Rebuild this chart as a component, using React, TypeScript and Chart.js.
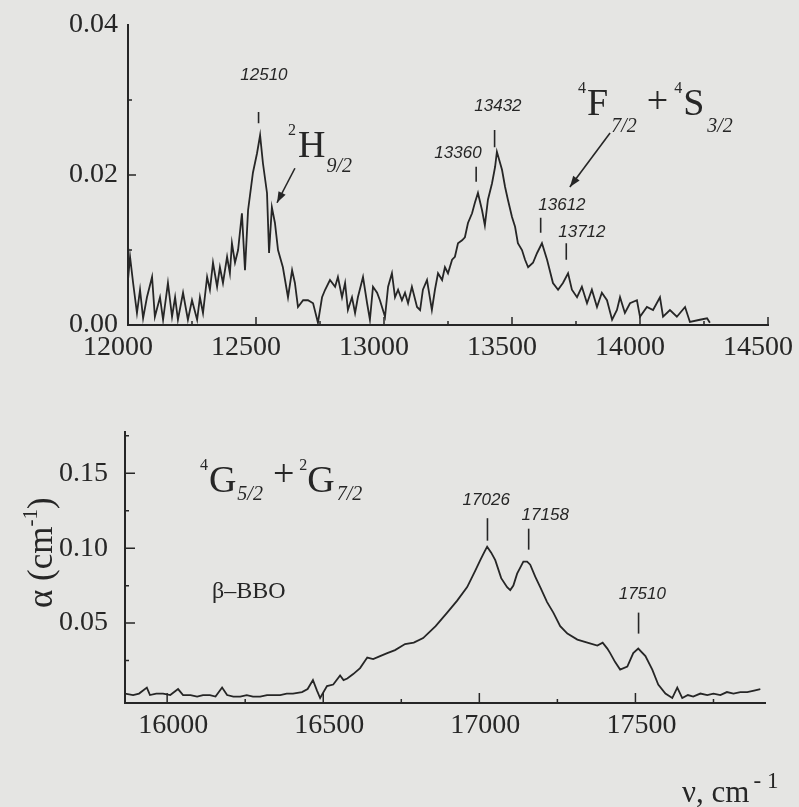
import React, { useEffect, useRef } from 'react';
import { Chart, registerables } from 'chart.js';

Chart.register(...registerables);

// ---------- Data: upper panel (2H9/2, 4F7/2 + 4S3/2) ----------
const topWavenumbers = [
  12000, 12008, 12020, 12035, 12047, 12059, 12074, 12094, 12105, 12125, 12137, 12156, 12172, 12184, 12195,
  12215, 12234, 12250, 12270, 12281, 12293, 12309, 12320, 12332, 12348, 12359, 12371, 12387, 12398, 12406,
  12418, 12430, 12445, 12457, 12469, 12488, 12504, 12516, 12527, 12543, 12551, 12562, 12574, 12586, 12605,
  12625, 12641, 12652, 12664, 12684, 12703, 12723, 12742, 12758, 12770, 12789, 12809, 12820, 12836, 12848,
  12859, 12875, 12887, 12898, 12918, 12934, 12945, 12957, 12973, 12984, 13004, 13016, 13031, 13043, 13055,
  13070, 13082, 13094, 13109, 13129, 13141, 13152, 13168, 13187, 13199, 13211, 13227, 13238, 13250, 13266,
  13277, 13289, 13305, 13316, 13328, 13344, 13355, 13367, 13383, 13394, 13406, 13422, 13434, 13441, 13461,
  13473, 13484, 13500, 13512, 13523, 13539, 13551, 13563, 13582, 13598, 13617, 13637, 13660, 13680, 13699,
  13719, 13734, 13754, 13773, 13793, 13812, 13832, 13851, 13871, 13891, 13910, 13922, 13941, 13961, 13988,
  14000, 14027, 14051, 14078, 14090, 14117, 14144, 14176, 14195, 14234, 14262, 14273,
];
const topAbsorption = [
  0.0060, 0.0091, 0.0056, 0.0016, 0.0047, 0.0009, 0.0037, 0.0064, 0.0011, 0.0037, 0.0007, 0.0056, 0.0011, 0.0037, 0.0007,
  0.0043, 0.0007, 0.0033, 0.0007, 0.0037, 0.0016, 0.0064, 0.0047, 0.0083, 0.0051, 0.0077, 0.0056, 0.0091, 0.0069, 0.0109,
  0.0083, 0.0100, 0.0149, 0.0073, 0.0153, 0.0203, 0.0229, 0.0253, 0.0216, 0.0176, 0.0096, 0.0157, 0.0136, 0.0100, 0.0077,
  0.0037, 0.0073, 0.0056, 0.0024, 0.0033, 0.0033, 0.0029, 0.0003, 0.0037, 0.0047, 0.0060, 0.0051, 0.0064, 0.0037, 0.0056,
  0.0020, 0.0037, 0.0016, 0.0037, 0.0064, 0.0029, 0.0007, 0.0051, 0.0043, 0.0033, 0.0011, 0.0051, 0.0069, 0.0037, 0.0047,
  0.0033, 0.0043, 0.0029, 0.0051, 0.0024, 0.0020, 0.0047, 0.0060, 0.0020, 0.0047, 0.0069, 0.0060, 0.0077, 0.0069, 0.0087,
  0.0091, 0.0109, 0.0113, 0.0117, 0.0136, 0.0149, 0.0163, 0.0176, 0.0153, 0.0133, 0.0167, 0.0189, 0.0211, 0.0231, 0.0207,
  0.0184, 0.0167, 0.0144, 0.0131, 0.0109, 0.0100, 0.0087, 0.0077, 0.0083, 0.0096, 0.0109, 0.0087, 0.0056, 0.0047, 0.0056,
  0.0069, 0.0047, 0.0037, 0.0051, 0.0029, 0.0047, 0.0024, 0.0043, 0.0033, 0.0007, 0.0020, 0.0037, 0.0016, 0.0029, 0.0033,
  0.0011, 0.0024, 0.0020, 0.0037, 0.0011, 0.0020, 0.0011, 0.0024, 0.0004, 0.0007, 0.0009, 0.0003,
];
const topXMajorTicks = [12000, 12500, 13000, 13500, 14000, 14500];
const topXMinorTicks = [12250, 12750, 13250, 13750, 14250];
const topYMajorTicks = [0, 0.02, 0.04];
const topYMinorTicks = [0.01, 0.03];

// ---------- Data: lower panel (4G5/2 + 2G7/2, beta-BBO) ----------
const bottomWavenumbers = [
  15865, 15891, 15910, 15935, 15945, 15965, 15987, 16010, 16035, 16051, 16075, 16096, 16115, 16137, 16155,
  16176, 16192, 16212, 16234, 16255, 16275, 16298, 16320, 16340, 16362, 16383, 16403, 16432, 16450, 16467,
  16480, 16490, 16512, 16532, 16554, 16565, 16577, 16596, 16618, 16641, 16660, 16682, 16705, 16730, 16762,
  16790, 16820, 16860, 16897, 16929, 16961, 16987, 17003, 17015, 17025, 17038, 17051, 17070, 17089, 17099,
  17109, 17121, 17141, 17153, 17163, 17179, 17195, 17217, 17237, 17259, 17282, 17314, 17346, 17378, 17395,
  17410, 17419, 17435, 17451, 17474, 17493, 17509, 17532, 17554, 17573, 17596, 17618, 17634, 17650, 17668,
  17685, 17708, 17730, 17750, 17772, 17793, 17814, 17836, 17858, 17880, 17900,
];
const bottomAbsorption = [
  0.003, 0.002, 0.003, 0.007, 0.002, 0.003, 0.003, 0.002, 0.006, 0.002, 0.002, 0.001, 0.002, 0.002, 0.001,
  0.007, 0.002, 0.001, 0.001, 0.002, 0.001, 0.001, 0.002, 0.002, 0.002, 0.003, 0.003, 0.004, 0.006, 0.012,
  0.005, 0.000, 0.008, 0.009, 0.015, 0.012, 0.013, 0.016, 0.020, 0.027, 0.026, 0.028, 0.030, 0.032, 0.036,
  0.037, 0.040, 0.048, 0.057, 0.065, 0.074, 0.085, 0.092, 0.097, 0.101, 0.097, 0.092, 0.080, 0.074, 0.072,
  0.075, 0.083, 0.091, 0.091, 0.089, 0.081, 0.074, 0.064, 0.057, 0.048, 0.043, 0.039, 0.037, 0.035, 0.037,
  0.033, 0.030, 0.024, 0.019, 0.021, 0.030, 0.033, 0.028, 0.019, 0.009, 0.003, 0.000, 0.007, 0.000, 0.002,
  0.001, 0.003, 0.002, 0.003, 0.002, 0.004, 0.003, 0.004, 0.004, 0.005, 0.006,
];
const bottomXMajorTicks = [16000, 16500, 17000, 17500];
const bottomXMinorTicks = [16250, 16750, 17250, 17750];
const bottomYMajorTicks = [0.05, 0.1, 0.15];
const bottomYMinorTicks = [0.025, 0.075, 0.125, 0.175];

// Peak assignments (wavenumbers as printed)
const topPeaks = ['12510', '13360', '13432', '13612', '13712'];
const bottomPeaks = ['17026', '17158', '17510'];

// ---------- Style / placement ----------
const BG = '#e5e5e3';
const INK = '#262626';
const SERIF = '"Liberation Serif", "DejaVu Serif", serif';
const W = 799;

// annotation placement in data units
const topPeakMarks: Record<string, { y0: number; y1: number; lx: number; ly: number }> = {
  '12510': { y0: 0.0269, y1: 0.0284, lx: 12531, ly: 0.0333 },
  '13360': { y0: 0.0191, y1: 0.0211, lx: 13289, ly: 0.0229 },
  '13432': { y0: 0.0237, y1: 0.026, lx: 13445, ly: 0.0291 },
  '13612': { y0: 0.0123, y1: 0.0143, lx: 13695, ly: 0.016 },
  '13712': { y0: 0.0087, y1: 0.0109, lx: 13773, ly: 0.0123 },
};
const bottomPeakMarks: Record<string, { y0: number; y1: number; lx: number; ly: number }> = {
  '17026': { y0: 0.105, y1: 0.12, lx: 17022, ly: 0.132 },
  '17158': { y0: 0.099, y1: 0.113, lx: 17211, ly: 0.122 },
  '17510': { y0: 0.043, y1: 0.057, lx: 17522, ly: 0.069 },
};

type Seg = { t: string; size: number; dy: number; italic?: boolean; bold?: boolean; gap?: number };

function segFont(s: Seg) {
  return `${s.italic ? 'italic ' : ''}${s.bold ? 'bold ' : ''}${s.size}px ${SERIF}`;
}

function segWidth(ctx: CanvasRenderingContext2D, segs: Seg[]) {
  let w = 0;
  for (const s of segs) {
    ctx.font = segFont(s);
    w += (s.gap || 0) + ctx.measureText(s.t).width;
  }
  return w;
}

function drawSegs(ctx: CanvasRenderingContext2D, x: number, y: number, segs: Seg[]) {
  let cx = x;
  ctx.textAlign = 'left';
  ctx.textBaseline = 'alphabetic';
  for (const s of segs) {
    ctx.font = segFont(s);
    cx += s.gap || 0;
    ctx.fillText(s.t, cx, y + s.dy);
    cx += ctx.measureText(s.t).width;
  }
}

function arrow(ctx: CanvasRenderingContext2D, x0: number, y0: number, x1: number, y1: number) {
  ctx.beginPath();
  ctx.moveTo(x0, y0);
  ctx.lineTo(x1, y1);
  ctx.stroke();
  const a = Math.atan2(y1 - y0, x1 - x0);
  const L = 11, Wd = 4;
  ctx.beginPath();
  ctx.moveTo(x1, y1);
  ctx.lineTo(x1 - L * Math.cos(a) + Wd * Math.sin(a), y1 - L * Math.sin(a) - Wd * Math.cos(a));
  ctx.lineTo(x1 - L * Math.cos(a) - Wd * Math.sin(a), y1 - L * Math.sin(a) + Wd * Math.cos(a));
  ctx.closePath();
  ctx.fill();
}

function insideTicks(chart: any, xMaj: number[], xMin: number[], yMaj: number[], yMin: number[], majLen: number) {
  const { ctx, chartArea } = chart;
  const x = chart.scales.x;
  const y = chart.scales.y;
  ctx.save();
  ctx.strokeStyle = INK;
  ctx.lineWidth = 1.5;
  ctx.beginPath();
  for (const v of xMaj) {
    const p = x.getPixelForValue(v);
    if (p <= chartArea.left + 1 || p > chartArea.right) continue;
    ctx.moveTo(p, chartArea.bottom);
    ctx.lineTo(p, chartArea.bottom - majLen);
  }
  for (const v of xMin) {
    const p = x.getPixelForValue(v);
    if (p > chartArea.right) continue;
    ctx.moveTo(p, chartArea.bottom);
    ctx.lineTo(p, chartArea.bottom - 4);
  }
  for (const v of yMaj) {
    const p = y.getPixelForValue(v);
    if (p >= chartArea.bottom - 1 || p <= chartArea.top + 1) continue;
    ctx.moveTo(chartArea.left, p);
    ctx.lineTo(chartArea.left + majLen, p);
  }
  for (const v of yMin) {
    const p = y.getPixelForValue(v);
    if (p < chartArea.top) continue;
    ctx.moveTo(chartArea.left, p);
    ctx.lineTo(chartArea.left + 4, p);
  }
  ctx.stroke();
  ctx.restore();
}

function peakMarks(chart: any, labels: string[], marks: Record<string, { y0: number; y1: number; lx: number; ly: number }>) {
  const { ctx } = chart;
  const x = chart.scales.x;
  const y = chart.scales.y;
  ctx.save();
  ctx.strokeStyle = INK;
  ctx.fillStyle = INK;
  ctx.lineWidth = 1.6;
  ctx.font = 'italic 17px "Liberation Sans", "DejaVu Sans", sans-serif';
  ctx.textAlign = 'center';
  ctx.textBaseline = 'middle';
  for (const lab of labels) {
    const m = marks[lab];
    const px = x.getPixelForValue(Number(lab));
    ctx.beginPath();
    ctx.moveTo(px, y.getPixelForValue(m.y0));
    ctx.lineTo(px, y.getPixelForValue(m.y1));
    ctx.stroke();
    ctx.fillText(lab, x.getPixelForValue(m.lx), y.getPixelForValue(m.ly));
  }
  ctx.restore();
}

const tickFont = { family: 'Liberation Serif', size: 28 };

function buildTicks(values: number[]) {
  return (scale: any) => {
    scale.ticks = values.slice().sort((a, b) => a - b).map((v) => ({ value: v }));
  };
}

function fixX(h: number) {
  return (s: any) => {
    s.height = h;
    s.paddingLeft = 0;
    s.paddingRight = 0;
  };
}

function fixY(w: number) {
  return (s: any) => {
    s.width = w;
    s.paddingTop = 0;
    s.paddingBottom = 0;
  };
}

export default function App() {
  const topRef = useRef<HTMLCanvasElement | null>(null);
  const botRef = useRef<HTMLCanvasElement | null>(null);

  useEffect(() => {
    document.body.style.margin = '0';
    document.body.style.background = BG;

    const topMajorSet = new Set(topXMajorTicks);
    const topYMajorSet = new Set(topYMajorTicks);

    const topPlugin = {
      id: 'topDecor',
      afterDraw(chart: any) {
        insideTicks(chart, topXMajorTicks, topXMinorTicks, topYMajorTicks, topYMinorTicks, 8);
        peakMarks(chart, topPeaks, topPeakMarks);
        const { ctx } = chart;
        const x = chart.scales.x;
        const y = chart.scales.y;
        ctx.save();
        ctx.fillStyle = INK;
        ctx.strokeStyle = INK;
        ctx.lineWidth = 1.6;
        // 2H9/2
        drawSegs(ctx, x.getPixelForValue(12625), y.getPixelForValue(0.0224), [
          { t: '2', size: 16, dy: -22 },
          { t: 'H', size: 38, dy: 0, gap: 2 },
          { t: '9/2', size: 20, dy: 15, italic: true, gap: 1 },
        ]);
        arrow(ctx, x.getPixelForValue(12652), y.getPixelForValue(0.0209), x.getPixelForValue(12582), y.getPixelForValue(0.0163));
        // 4F7/2 + 4S3/2
        drawSegs(ctx, x.getPixelForValue(13758), y.getPixelForValue(0.028), [
          { t: '4', size: 16, dy: -22 },
          { t: 'F', size: 38, dy: 0, gap: 1 },
          { t: '7/2', size: 20, dy: 17, italic: true, gap: 3 },
          { t: '+', size: 38, dy: -2, gap: 10 },
          { t: '4', size: 16, dy: -22, gap: 6 },
          { t: 'S', size: 38, dy: 0, gap: 1 },
          { t: '3/2', size: 20, dy: 17, italic: true, gap: 3 },
        ]);
        arrow(ctx, x.getPixelForValue(13883), y.getPixelForValue(0.0256), x.getPixelForValue(13726), y.getPixelForValue(0.0184));
        ctx.restore();
      },
    };

    const botPlugin = {
      id: 'botDecor',
      afterDraw(chart: any) {
        insideTicks(chart, bottomXMajorTicks, bottomXMinorTicks, bottomYMajorTicks, bottomYMinorTicks, 10);
        peakMarks(chart, bottomPeaks, bottomPeakMarks);
        const { ctx, chartArea } = chart;
        const x = chart.scales.x;
        const y = chart.scales.y;
        ctx.save();
        ctx.fillStyle = INK;
        // 4G5/2 + 2G7/2
        drawSegs(ctx, x.getPixelForValue(16105), y.getPixelForValue(0.1373), [
          { t: '4', size: 16, dy: -22 },
          { t: 'G', size: 38, dy: 0, gap: 1 },
          { t: '5/2', size: 20, dy: 8, italic: true, gap: 1 },
          { t: '+', size: 38, dy: -6, gap: 10 },
          { t: '2', size: 16, dy: -22, gap: 5 },
          { t: 'G', size: 38, dy: 0, gap: 0 },
          { t: '7/2', size: 20, dy: 8, italic: true, gap: 2 },
        ]);
        // beta-BBO
        drawSegs(ctx, x.getPixelForValue(16144), y.getPixelForValue(0.0667), [{ t: 'β–BBO', size: 24, dy: 0 }]);
        // y-axis title: α (cm-1)
        const ySegs: Seg[] = [
          { t: 'α (cm', size: 35, dy: 0 },
          { t: '-1', size: 21, dy: -15 },
          { t: ')', size: 35, dy: 0 },
        ];
        const tw = segWidth(ctx, ySegs);
        ctx.save();
        ctx.translate(chartArea.left - 73, y.getPixelForValue(0.097));
        ctx.rotate(-Math.PI / 2);
        drawSegs(ctx, -tw / 2, 0, ySegs);
        ctx.restore();
        // x-axis title: ν, cm -1
        drawSegs(ctx, chartArea.right - 83, chart.height - 5, [
          { t: 'ν, cm', size: 31, dy: 0 },
          { t: '-', size: 23, dy: -14, gap: 4 },
          { t: '1', size: 23, dy: -14, gap: 6 },
        ]);
        ctx.restore();
      },
    };

    const lineStyle = {
      borderColor: INK,
      borderWidth: 1.8,
      pointRadius: 0,
      tension: 0,
      fill: false,
    };

    const topChart = new Chart(topRef.current as HTMLCanvasElement, {
      type: 'line',
      data: {
        datasets: [
          {
            data: topWavenumbers.map((v, i) => ({ x: v, y: topAbsorption[i] })),
            ...lineStyle,
          },
        ],
      },
      options: {
        animation: false,
        responsive: false,
        devicePixelRatio: 1,
        layout: { padding: { left: 0, top: 25, right: 31, bottom: 0 } },
        plugins: { legend: { display: false }, tooltip: { enabled: false }, title: { display: false } },
        scales: {
          x: {
            type: 'linear',
            min: 12000,
            max: 14500,
            afterBuildTicks: buildTicks([...topXMajorTicks, ...topXMinorTicks]),
            afterFit: fixX(55),
            grid: { display: false, drawTicks: false },
            border: { display: true, color: INK, width: 2 },
            ticks: {
              autoSkip: false,
              maxRotation: 0,
              minRotation: 0,
              labelOffset: -10,
              padding: 6,
              color: INK,
              font: tickFont,
              callback: (v: any) => (topMajorSet.has(Number(v)) ? String(v) : ''),
            },
          },
          y: {
            type: 'linear',
            min: 0,
            max: 0.04,
            afterBuildTicks: buildTicks([...topYMajorTicks, ...topYMinorTicks]),
            afterFit: fixY(128),
            grid: { display: false, drawTicks: false },
            border: { display: true, color: INK, width: 2 },
            ticks: {
              autoSkip: false,
              padding: 10,
              color: INK,
              font: tickFont,
              callback: (v: any) => (topYMajorSet.has(Number(v)) ? Number(v).toFixed(2) : ''),
            },
          },
        },
      },
      plugins: [topPlugin],
    } as any);

    const botXMajorSet = new Set(bottomXMajorTicks);
    const botYMajorSet = new Set(bottomYMajorTicks);

    const botChart = new Chart(botRef.current as HTMLCanvasElement, {
      type: 'line',
      data: {
        datasets: [
          {
            data: bottomWavenumbers.map((v, i) => ({ x: v, y: bottomAbsorption[i] })),
            ...lineStyle,
          },
        ],
      },
      options: {
        animation: false,
        responsive: false,
        devicePixelRatio: 1,
        layout: { padding: { left: 0, top: 52, right: 34, bottom: 0 } },
        plugins: { legend: { display: false }, tooltip: { enabled: false }, title: { display: false } },
        scales: {
          x: {
            type: 'linear',
            min: 15865,
            max: 17915,
            afterBuildTicks: buildTicks([...bottomXMajorTicks, ...bottomXMinorTicks]),
            afterFit: fixX(104),
            grid: { display: false, drawTicks: false },
            border: { display: true, color: INK, width: 2 },
            ticks: {
              autoSkip: false,
              maxRotation: 0,
              minRotation: 0,
              labelOffset: 6,
              padding: 6,
              color: INK,
              font: tickFont,
              callback: (v: any) => (botXMajorSet.has(Number(v)) ? String(v) : ''),
            },
          },
          y: {
            type: 'linear',
            min: -0.0033,
            max: 0.1775,
            afterBuildTicks: buildTicks([...bottomYMajorTicks, ...bottomYMinorTicks]),
            afterFit: fixY(125),
            grid: { display: false, drawTicks: false },
            border: { display: true, color: INK, width: 2 },
            ticks: {
              autoSkip: false,
              padding: 17,
              color: INK,
              font: tickFont,
              callback: (v: any) => (botYMajorSet.has(Number(v)) ? Number(v).toFixed(2) : ''),
            },
          },
        },
      },
      plugins: [botPlugin],
    } as any);

    return () => {
      topChart.destroy();
      botChart.destroy();
    };
  }, []);

  return (
    <div style={{ position: 'relative', width: W, height: 807, background: BG, overflow: 'hidden' }}>
      <canvas ref={topRef} width={W} height={380} style={{ position: 'absolute', left: 0, top: 0 }} />
      <canvas ref={botRef} width={W} height={427} style={{ position: 'absolute', left: 0, top: 380 }} />
    </div>
  );
}
